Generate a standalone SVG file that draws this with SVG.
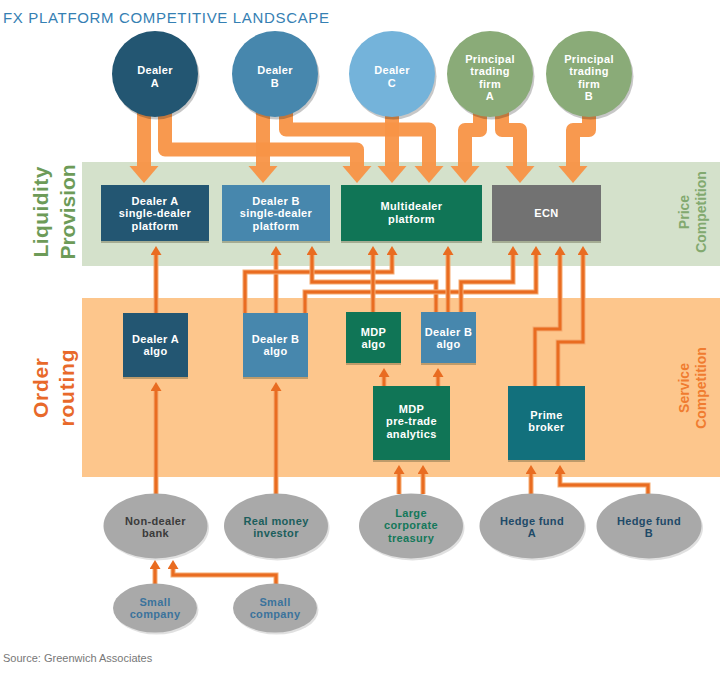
<svg xmlns="http://www.w3.org/2000/svg" width="720" height="674" viewBox="0 0 720 674">
<defs>
<style>
.t{font-family:"Liberation Sans",Arial,sans-serif;font-weight:bold;font-size:11px;letter-spacing:0.35px;text-anchor:middle;fill:#fff}
.et{font-family:"Liberation Sans",Arial,sans-serif;font-weight:bold;font-size:11px;letter-spacing:0.35px;text-anchor:middle}
.thick{fill:none;stroke:#f89446;stroke-width:14;stroke-linejoin:round}
.head{fill:#f89446}
.under{fill:none;stroke:#f5ab72;stroke-width:5}
.thin{fill:none;stroke:#e96c21;stroke-width:3;marker-end:url(#ah)}
.shadow{fill:#4a4a2a;opacity:0.35}
.cshadow{fill:#000;opacity:0.22}
.eshadow{fill:#000;opacity:0.12}
.ell{fill:#a9a9a9}
.side{font-family:"Liberation Sans",Arial,sans-serif;font-weight:bold;text-anchor:middle}
</style>
<marker id="ah" viewBox="0 0 9 11" refX="0" refY="5.5" markerWidth="9" markerHeight="11" markerUnits="userSpaceOnUse" orient="auto">
<path d="M0,0 L9,5.5 L0,11 z" fill="#e96c21"/>
</marker>
</defs>
<rect x="0" y="0" width="720" height="674" fill="#fff"/>
<text x="3" y="22.5" font-family="Liberation Sans,Arial,sans-serif" font-size="15" fill="#3580b3" textLength="326" lengthAdjust="spacing">FX PLATFORM COMPETITIVE LANDSCAPE</text>

<g id="bands">
<rect x="82" y="162" width="638" height="104" fill="#d4e1cb"/>
<rect x="82" y="298" width="638" height="179" fill="#fdc68c"/>
<text class="side" transform="translate(48,212) rotate(-90)" font-size="21" fill="#6d9b58" textLength="91" lengthAdjust="spacing">Liquidity</text>
<text class="side" transform="translate(75,212) rotate(-90)" font-size="21" fill="#6d9b58" textLength="95" lengthAdjust="spacing">Provision</text>
<text class="side" transform="translate(48,388) rotate(-90)" font-size="21" fill="#e8692a" textLength="60" lengthAdjust="spacing">Order</text>
<text class="side" transform="translate(74,388) rotate(-90)" font-size="21" fill="#e8692a" textLength="77" lengthAdjust="spacing">routing</text>
<text class="side" transform="translate(689,212) rotate(-90)" font-size="14" fill="#82a96f">Price</text>
<text class="side" transform="translate(706,212) rotate(-90)" font-size="14" fill="#82a96f">Competition</text>
<text class="side" transform="translate(689,388) rotate(-90)" font-size="14" fill="#f07c30">Service</text>
<text class="side" transform="translate(706,388) rotate(-90)" font-size="14" fill="#f07c30">Competition</text>
</g>

<g id="connectors">
<g opacity="0.95"><path class="thick" d="M144,100 V167"/><polygon class="head" points="129.5,166 158.5,166 144,183"/></g>
<g opacity="0.95"><path class="thick" d="M165,100 V149.5 H357 V167"/><polygon class="head" points="342.5,166 371.5,166 357,183"/></g>
<g opacity="0.95"><path class="thick" d="M263,100 V167"/><polygon class="head" points="248.5,166 277.5,166 263,183"/></g>
<g opacity="0.95"><path class="thick" d="M286,100 V129.5 H429 V167"/><polygon class="head" points="414.5,166 443.5,166 429,183"/></g>
<g opacity="0.95"><path class="thick" d="M392,100 V167"/><polygon class="head" points="377.5,166 406.5,166 392,183"/></g>
<g opacity="0.95"><path class="thick" d="M480,100 V130 H465 V167"/><polygon class="head" points="450.5,166 479.5,166 465,183"/></g>
<g opacity="0.95"><path class="thick" d="M502,100 V130 H520 V167"/><polygon class="head" points="505.5,166 534.5,166 520,183"/></g>
<g opacity="0.95"><path class="thick" d="M589,100 V130 H573 V167"/><polygon class="head" points="558.5,166 587.5,166 573,183"/></g>

<path class="under" d="M156,313 V255"/><path class="thin" d="M156,313 V255"/>
<path class="under" d="M276,313 V255"/><path class="thin" d="M276,313 V255"/>
<path class="under" d="M245,313 V272 H392 V255"/><path class="thin" d="M245,313 V272 H392 V255"/>
<path class="under" d="M436,312 V282 H312 V255"/><path class="thin" d="M436,312 V282 H312 V255"/>
<path class="under" d="M305,313 V292 H536 V255"/><path class="thin" d="M305,313 V292 H536 V255"/>
<path class="under" d="M373,312 V255"/><path class="thin" d="M373,312 V255"/>
<path class="under" d="M448,312 V255"/><path class="thin" d="M448,312 V255"/>
<path class="under" d="M461,312 V282 H513 V255"/><path class="thin" d="M461,312 V282 H513 V255"/>
<path class="under" d="M535,386 V329 H560 V255"/><path class="thin" d="M535,386 V329 H560 V255"/>
<path class="under" d="M558,386 V342 H583 V255"/><path class="thin" d="M558,386 V342 H583 V255"/>
<path class="under" d="M384,386 V377"/><path class="thin" d="M384,386 V377"/>
<path class="under" d="M438,386 V377"/><path class="thin" d="M438,386 V377"/>
<path class="under" d="M156,494 V391"/><path class="thin" d="M156,494 V391"/>
<path class="under" d="M276,494 V391"/><path class="thin" d="M276,494 V391"/>
<path class="under" d="M399,494 V474"/><path class="thin" d="M399,494 V474"/>
<path class="under" d="M423,494 V474"/><path class="thin" d="M423,494 V474"/>
<path class="under" d="M531,494 V474"/><path class="thin" d="M531,494 V474"/>
<path class="under" d="M648,495 V485 H560 V474"/><path class="thin" d="M648,495 V485 H560 V474"/>
<path class="under" d="M155,585 V569"/><path class="thin" d="M155,585 V569"/>
<path class="under" d="M276,585 V575 H173 V569"/><path class="thin" d="M276,585 V575 H173 V569"/>
</g>

<g id="dealerA">
<circle class="cshadow" cx="156.5" cy="76.5" r="43"/>
<circle cx="155" cy="74" r="43" fill="#235672"/>
<text class="t" x="155" y="74">Dealer</text><text class="t" x="155" y="86.5">A</text>
</g>
<g id="dealerB">
<circle class="cshadow" cx="276.5" cy="76.5" r="43"/>
<circle cx="275" cy="74" r="43" fill="#4787ad"/>
<text class="t" x="275" y="74">Dealer</text><text class="t" x="275" y="86.5">B</text>
</g>
<g id="dealerC">
<circle class="cshadow" cx="393.5" cy="76.5" r="43"/>
<circle cx="392" cy="74" r="43" fill="#74b3da"/>
<text class="t" x="392" y="74">Dealer</text><text class="t" x="392" y="86.5">C</text>
</g>
<g id="ptfA">
<circle class="cshadow" cx="491.5" cy="76.5" r="43"/>
<circle cx="490" cy="74" r="43" fill="#8aab78"/>
<text class="t" x="490" y="62.5">Principal</text><text class="t" x="490" y="75">trading</text><text class="t" x="490" y="87.5">firm</text><text class="t" x="490" y="100">A</text>
</g>
<g id="ptfB">
<circle class="cshadow" cx="590.5" cy="76.5" r="43"/>
<circle cx="589" cy="74" r="43" fill="#8aab78"/>
<text class="t" x="589" y="62.5">Principal</text><text class="t" x="589" y="75">trading</text><text class="t" x="589" y="87.5">firm</text><text class="t" x="589" y="100">B</text>
</g>

<g id="sdpA">
<rect class="shadow" x="101" y="187" width="108" height="56"/>
<rect x="101" y="185" width="108" height="56" fill="#235672"/>
<text class="t" x="155" y="204.5">Dealer A</text><text class="t" x="155" y="217">single-dealer</text><text class="t" x="155" y="229.5">platform</text>
</g>
<g id="sdpB">
<rect class="shadow" x="222" y="187" width="108" height="56"/>
<rect x="222" y="185" width="108" height="56" fill="#4787ad"/>
<text class="t" x="276" y="204.5">Dealer B</text><text class="t" x="276" y="217">single-dealer</text><text class="t" x="276" y="229.5">platform</text>
</g>
<g id="mdp">
<rect class="shadow" x="341" y="187" width="141" height="56"/>
<rect x="341" y="185" width="141" height="56" fill="#107556"/>
<text class="t" x="411.5" y="210">Multidealer</text><text class="t" x="411.5" y="222.5">platform</text>
</g>
<g id="ecn">
<rect class="shadow" x="492" y="187" width="109" height="56"/>
<rect x="492" y="185" width="109" height="56" fill="#727272"/>
<text class="t" x="546.5" y="217">ECN</text>
</g>

<g id="algoA">
<rect class="shadow" x="123" y="315" width="65" height="64"/>
<rect x="123" y="313" width="65" height="64" fill="#235672"/>
<text class="t" x="155.5" y="342.5">Dealer A</text><text class="t" x="155.5" y="355">algo</text>
</g>
<g id="algoB1">
<rect class="shadow" x="243" y="315" width="65" height="64"/>
<rect x="243" y="313" width="65" height="64" fill="#4787ad"/>
<text class="t" x="275.5" y="342.5">Dealer B</text><text class="t" x="275.5" y="355">algo</text>
</g>
<g id="mdpAlgo">
<rect class="shadow" x="346" y="314" width="55" height="51"/>
<rect x="346" y="312" width="55" height="51" fill="#107556"/>
<text class="t" x="373.5" y="335.5">MDP</text><text class="t" x="373.5" y="348">algo</text>
</g>
<g id="algoB2">
<rect class="shadow" x="421" y="314" width="55" height="51"/>
<rect x="421" y="312" width="55" height="51" fill="#4787ad"/>
<text class="t" x="448.5" y="335.5">Dealer B</text><text class="t" x="448.5" y="348">algo</text>
</g>
<g id="mdpPre">
<rect class="shadow" x="373" y="388" width="77" height="74"/>
<rect x="373" y="386" width="77" height="74" fill="#107556"/>
<text class="t" x="411.5" y="412.5">MDP</text><text class="t" x="411.5" y="425">pre-trade</text><text class="t" x="411.5" y="437.5">analytics</text>
</g>
<g id="prime">
<rect class="shadow" x="508" y="388" width="77" height="74"/>
<rect x="508" y="386" width="77" height="74" fill="#12707c"/>
<text class="t" x="546.5" y="418.5">Prime</text><text class="t" x="546.5" y="431">broker</text>
</g>

<g id="nondealer">
<ellipse class="eshadow" cx="157" cy="528" rx="52" ry="32.5"/>
<ellipse class="ell" cx="155.5" cy="526" rx="52" ry="32.5"/>
<text class="et" x="155.5" y="524.5" fill="#3b3b3b">Non-dealer</text><text class="et" x="155.5" y="537" fill="#3b3b3b">bank</text>
</g>
<g id="realmoney">
<ellipse class="eshadow" cx="277.5" cy="528" rx="52" ry="32.5"/>
<ellipse class="ell" cx="276" cy="526" rx="52" ry="32.5"/>
<text class="et" x="276" y="524.5" fill="#1b5e5c">Real money</text><text class="et" x="276" y="537" fill="#1b5e5c">investor</text>
</g>
<g id="corp">
<ellipse class="eshadow" cx="412.5" cy="528" rx="52" ry="32.5"/>
<ellipse class="ell" cx="411" cy="526" rx="52" ry="32.5"/>
<text class="et" x="411" y="516.5" fill="#14785a">Large</text><text class="et" x="411" y="529" fill="#14785a">corporate</text><text class="et" x="411" y="541.5" fill="#14785a">treasury</text>
</g>
<g id="hfA">
<ellipse class="eshadow" cx="533.5" cy="528" rx="52.5" ry="32.5"/>
<ellipse class="ell" cx="532" cy="526" rx="52.5" ry="32.5"/>
<text class="et" x="532" y="524.5" fill="#1e4a68">Hedge fund</text><text class="et" x="532" y="537" fill="#1e4a68">A</text>
</g>
<g id="hfB">
<ellipse class="eshadow" cx="650.5" cy="528" rx="52.5" ry="32.5"/>
<ellipse class="ell" cx="649" cy="526" rx="52.5" ry="32.5"/>
<text class="et" x="649" y="524.5" fill="#1e4a68">Hedge fund</text><text class="et" x="649" y="537" fill="#1e4a68">B</text>
</g>
<g id="small1">
<ellipse class="eshadow" cx="156.5" cy="610" rx="42" ry="24.5"/>
<ellipse class="ell" cx="155" cy="608" rx="42" ry="24.5"/>
<text class="et" x="155" y="605.5" fill="#3b739c">Small</text><text class="et" x="155" y="618" fill="#3b739c">company</text>
</g>
<g id="small2">
<ellipse class="eshadow" cx="276.5" cy="610" rx="42" ry="24.5"/>
<ellipse class="ell" cx="275" cy="608" rx="42" ry="24.5"/>
<text class="et" x="275" y="605.5" fill="#3b739c">Small</text><text class="et" x="275" y="618" fill="#3b739c">company</text>
</g>

<text x="3" y="662" font-family="Liberation Sans,Arial,sans-serif" font-size="11" fill="#777">Source: Greenwich Associates</text>
</svg>
